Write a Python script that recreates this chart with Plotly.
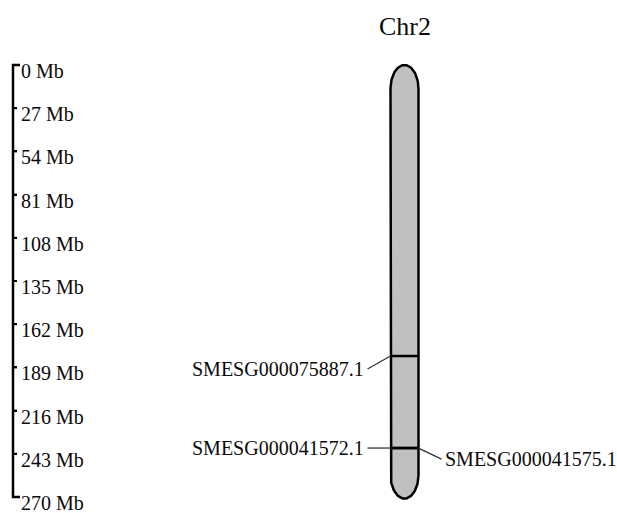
import numpy as np
import plotly.graph_objects as go

# ---- data ----
chrom_name = "Chr2"
chrom_length = 271.0          # Mb
scale_ticks = [0, 27, 54, 81, 108, 135, 162, 189, 216, 243, 270]
scale_labels = [f"{t} Mb" for t in scale_ticks]
gene_names = ["SMESG000075887.1", "SMESG000041572.1", "SMESG000041575.1"]
gene_pos = [181.9, 239.4, 239.4]     # Mb
gene_side = ["left", "left", "right"]
label_pos = [190.0, 239.4, 246.3]    # Mb, where each label sits

# ---- layout constants (pixels on x) ----
W, H = 617, 513
px_per_mb = 1.6
top_px = 65
y_top = -top_px / px_per_mb
y_bot = (H - top_px) / px_per_mb
cx, hw = 404.5, 14.0
cap = 15.0  # Mb
axis_x = 13
font_fam = "Liberation Serif"
txt_col = "#0a0a0a"

fig = go.Figure()

# chromosome outline
t = np.linspace(0, np.pi, 60)
top_x = cx + hw * np.cos(t)
top_y = cap * (1 - np.sin(t))
bot_x = cx - hw * np.cos(t)
bot_y = chrom_length - cap * (1 - np.sin(t))
xs = np.concatenate([top_x, bot_x, top_x[:1]])
ys = np.concatenate([top_y, bot_y, top_y[:1]])
fig.add_trace(go.Scatter(x=xs, y=ys, mode="lines", fill="toself",
                         fillcolor="#c0c0c0", line=dict(color="black", width=2.5),
                         hoverinfo="skip", showlegend=False))

# gene bands
for g in gene_pos:
    fig.add_trace(go.Scatter(x=[cx - hw, cx + hw], y=[g, g], mode="lines",
                             line=dict(color="black", width=2.5),
                             hoverinfo="skip", showlegend=False))

# connectors and labels
for name, g, side, ly in zip(gene_names, gene_pos, gene_side, label_pos):
    if side == "left":
        fig.add_trace(go.Scatter(x=[cx - hw - 23, cx - hw], y=[ly, g], mode="lines",
                                 line=dict(color="#333333", width=1.3),
                                 hoverinfo="skip", showlegend=False))
        fig.add_annotation(x=cx - hw - 24.5, y=ly, text=name, showarrow=False,
                           xanchor="right", yanchor="middle",
                           font=dict(family=font_fam, size=20, color=txt_col))
    else:
        fig.add_trace(go.Scatter(x=[cx + hw, cx + hw + 23], y=[g, ly], mode="lines",
                                 line=dict(color="#333333", width=1.3),
                                 hoverinfo="skip", showlegend=False))
        fig.add_annotation(x=cx + hw + 24.5, y=ly, text=name, showarrow=False,
                           xanchor="left", yanchor="middle",
                           font=dict(family=font_fam, size=20, color=txt_col))

# chromosome title
fig.add_annotation(x=cx, y=1 - 27 / H, yref="paper", text=chrom_name, showarrow=False,
                   xanchor="center", yanchor="middle",
                   font=dict(family=font_fam, size=26, color=txt_col))

# scale bar line with end brackets
fig.add_trace(go.Scatter(x=[axis_x + 7, axis_x, axis_x, axis_x + 7],
                         y=[scale_ticks[0], scale_ticks[0], scale_ticks[-1], scale_ticks[-1]],
                         mode="lines", line=dict(color="black", width=2.5),
                         hoverinfo="skip", showlegend=False))
# small tick marks on the scale bar
tx, ty = [], []
for v in scale_ticks[1:-1]:
    tx += [axis_x, axis_x + 4, None]
    ty += [v, v, None]
fig.add_trace(go.Scatter(x=tx, y=ty, mode="lines", line=dict(color="black", width=2),
                         hoverinfo="skip", showlegend=False))

fig.update_layout(
    width=W, height=H, margin=dict(l=0, r=0, t=0, b=0),
    paper_bgcolor="white", plot_bgcolor="white",
    xaxis=dict(range=[0, W], visible=False, domain=[0, 1], fixedrange=True),
    yaxis=dict(range=[y_bot, y_top], anchor="free", position=axis_x / W, side="right",
               showline=False, showgrid=False, zeroline=False,
               ticks="outside", ticklen=3, tickwidth=2, tickcolor="black",
               tickvals=scale_ticks, ticktext=scale_labels,
               ticklabelshift=-6, ticklabelstandoff=0, ticklabeloverflow="allow",
               tickfont=dict(family=font_fam, size=20, color=txt_col)),
    showlegend=False,
)

fig.write_html("out.html")
